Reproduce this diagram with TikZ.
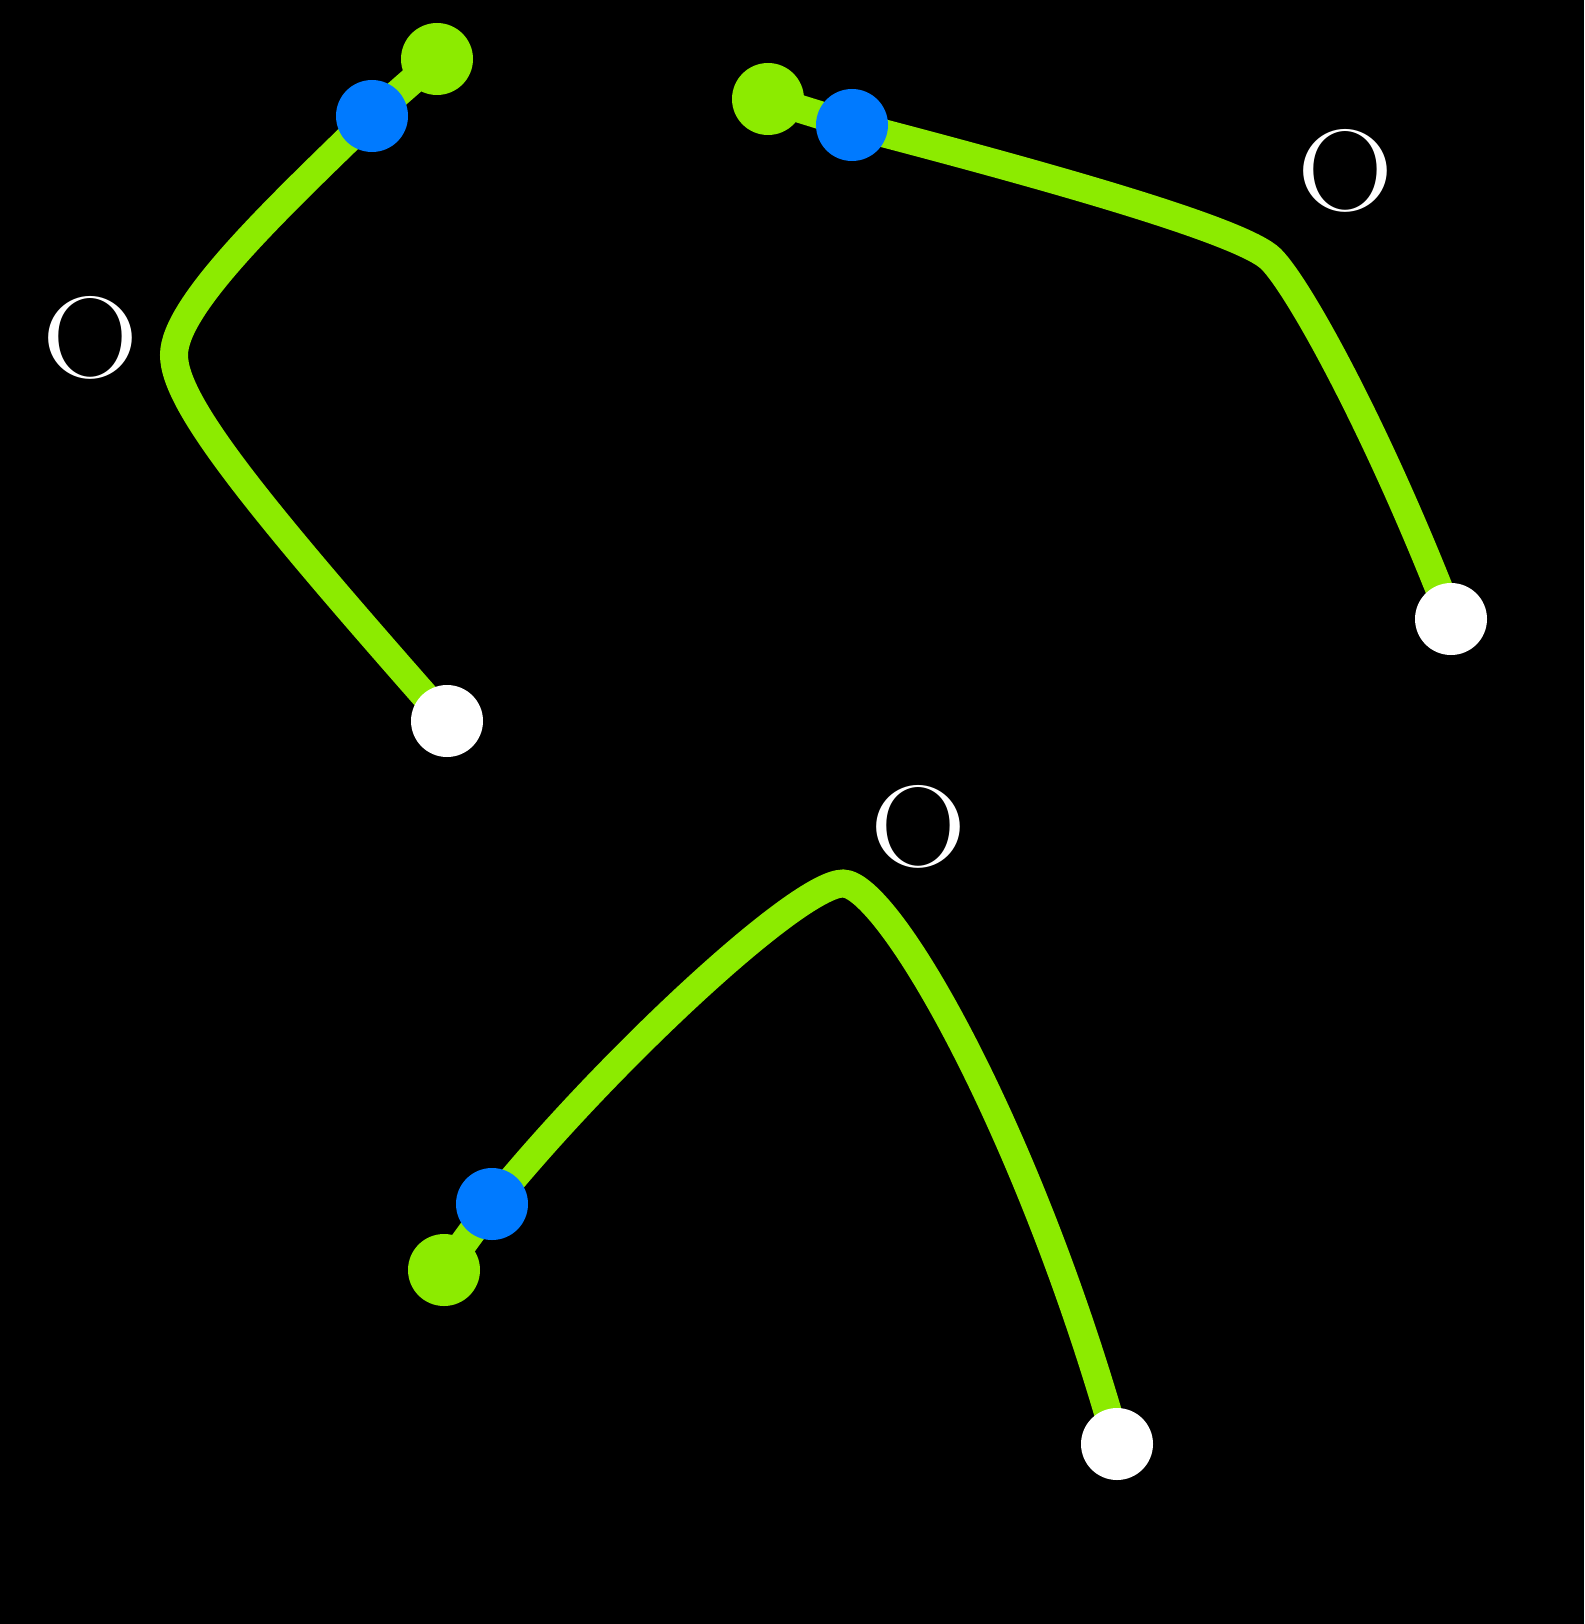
\documentclass[tikz,border=0pt]{standalone}
\usepackage{fontspec}
\definecolor{curvegreen}{RGB}{140,235,0}
\definecolor{dotblue}{RGB}{0,122,255}
\pgfdeclarelayer{back}
\pgfdeclarelayer{lines}
\pgfsetlayers{back,lines,main}
\begin{document}
\begin{tikzpicture}[x=1pt,y=-1pt,
  curve/.style={draw=curvegreen, line width=28pt},
  dot/.style={circle, inner sep=0pt, minimum size=72pt},
  handle/.style={dot, fill=curvegreen},
  pivot/.style={dot, fill=dotblue},
  endpt/.style={dot, fill=white},
  lbl/.style={text=white, inner sep=0pt, font=\fontsize{116}{116}\selectfont}]
\useasboundingbox (0,0) rectangle (1584,1624);
\begin{pgfonlayer}{back}
\fill[black] (0,0) rectangle (1584,1624);
\end{pgfonlayer}

\node[handle] (g1) at (437,59) {};
\node[pivot] (b1) at (372,116) {};
\node[endpt] (w1) at (447,721) {};
\coordinate (k1) at (174,355);
\node[lbl] (o1) at (90.5,338) {\scalebox{1.15}[1]{O}};

\node[handle] (g2) at (768,99) {};
\node[pivot] (b2) at (852,125) {};
\node[endpt] (w2) at (1451,619) {};
\coordinate (k2) at (1271,259);
\node[lbl] (o2) at (1346,171) {\scalebox{1.15}[1]{O}};

\node[handle] (g3) at (444,1270) {};
\node[pivot] (b3) at (492,1204) {};
\node[endpt] (w3) at (1117,1444) {};
\coordinate (k3) at (843,883.5);
\node[lbl] (o3) at (919,827) {\scalebox{1.15}[1]{O}};

\begin{pgfonlayer}{lines}
\draw[curve] (g1.center) -- (b1.center) .. controls +(135.8:130) and +(-90:50) .. (k1)
  .. controls +(90:50) and +(228.6:280) .. (w1.center);
\draw[curve] (g2.center) -- (b2.center) .. controls +(14.6:200) and +(225:40) .. (k2)
  .. controls +(45:40) and +(248.9:200) .. (w2.center);
\draw[curve] (g3.center) -- (b3.center) .. controls +(-51:180) and +(180:45) .. (k3)
  .. controls +(0:45) and +(254.3:330) .. (w3.center);
\end{pgfonlayer}
\end{tikzpicture}
\end{document}
